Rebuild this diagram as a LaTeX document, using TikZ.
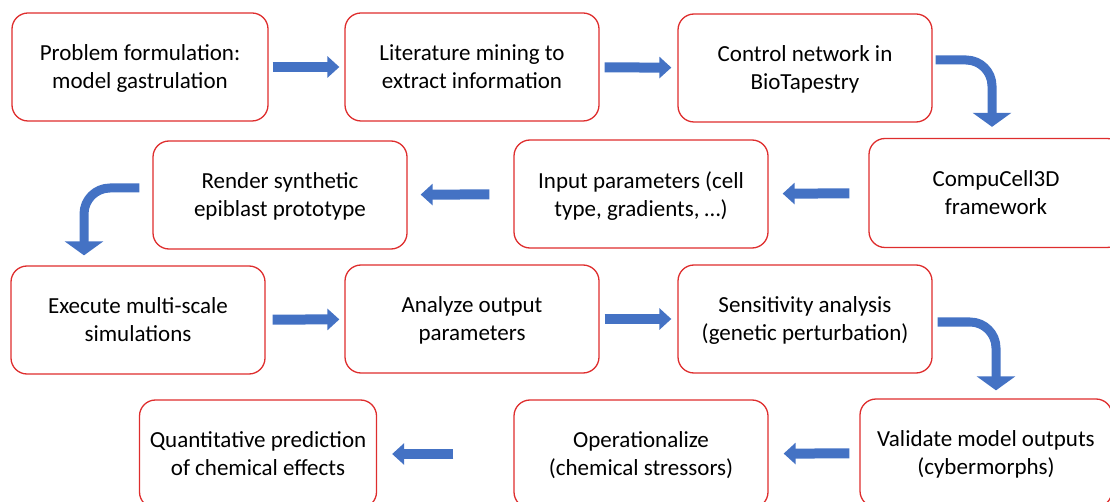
\documentclass[tikz,border=0pt]{standalone}
\usepackage{fontspec}
\setmainfont{Carlito}
\usetikzlibrary{arrows.meta}
\definecolor{boxred}{RGB}{222,45,45}
\definecolor{arrowblue}{RGB}{68,114,196}

\tikzset{
  stepbox/.style={draw=boxred, line width=1.3pt, rounded corners=16pt,
    minimum width=254pt, minimum height=108pt, inner sep=0pt,
    align=center, font=\fontsize{23}{28}\selectfont, text depth=0pt},
  flow/.style={draw=arrowblue, line width=10pt,
    -{Triangle[width=21pt,length=12pt]}},
  turnflow/.style={draw=arrowblue, line width=9pt, rounded corners=26pt,
    -{Triangle[width=38pt,length=14pt]}},
}

\begin{document}
\begin{tikzpicture}[x=1pt,y=-1pt]
\useasboundingbox (0,0) rectangle (1110,502);
\clip (0,0) rectangle (1110,502);
% row 1
\node[stepbox, minimum width=256pt] (formulate) at (140,67) {Problem formulation:\\model gastrulation};
\node[stepbox] (mining) at (472,67) {Literature mining to\\extract information};
\node[stepbox] (network) at (805,68) {Control network in\\BioTapestry};
% row 2
\node[stepbox, minimum height=109pt] (compucell) at (996,193) {CompuCell3D\\framework};
\node[stepbox] (inputs) at (641,194) {Input parameters (cell\\type, gradients, …)};
\node[stepbox] (render) at (280,195) {Render synthetic\\epiblast prototype};
% row 3
\node[stepbox] (execute) at (138,320) {Execute multi-scale\\simulations};
\node[stepbox] (analyze) at (472,319) {Analyze output\\parameters};
\node[stepbox] (sensitivity) at (805,319) {Sensitivity analysis\\(genetic perturbation)};
% row 4
\node[stepbox, minimum width=252pt] (validate) at (986,453) {Validate model outputs\\(cybermorphs)};
\node[stepbox] (operational) at (641,454) {Operationalize\\(chemical stressors)};
\node[stepbox, minimum width=237pt] (predict) at (258,454) {Quantitative prediction\\of chemical effects};

% straight arrows
\draw[flow, shorten <=4pt, shorten >=5pt] (formulate) -- (mining);
\draw[flow, shorten <=5pt, shorten >=6pt] (mining) -- (network);
\draw[flow, shorten <=19pt, shorten >=14pt] (compucell) -- (inputs);
\draw[flow, shorten <=24pt, shorten >=13pt] (inputs) -- (render);
\draw[flow, shorten <=7pt, shorten >=5pt] (execute) -- (analyze);
\draw[flow, shorten <=5pt, shorten >=6pt] (analyze) -- (sensitivity);
\draw[flow, shorten <=10pt, shorten >=15pt] (validate) -- (operational);
\draw[flow, shorten <=60pt, shorten >=15pt] (operational) -- (predict);

% bent arrows
\draw[turnflow, shorten <=3pt, shorten >=11pt] ([yshift=8pt]network.east) -| ([xshift=-4pt]compucell.north);
\draw[turnflow, shorten <=13pt, shorten >=10pt] ([yshift=7pt]render.west) -| ([xshift=-54pt]execute.north);
\draw[turnflow, shorten <=5pt, shorten >=8pt] ([yshift=-3pt]sensitivity.east) -| ([xshift=10pt]validate.north);
\end{tikzpicture}
\end{document}
